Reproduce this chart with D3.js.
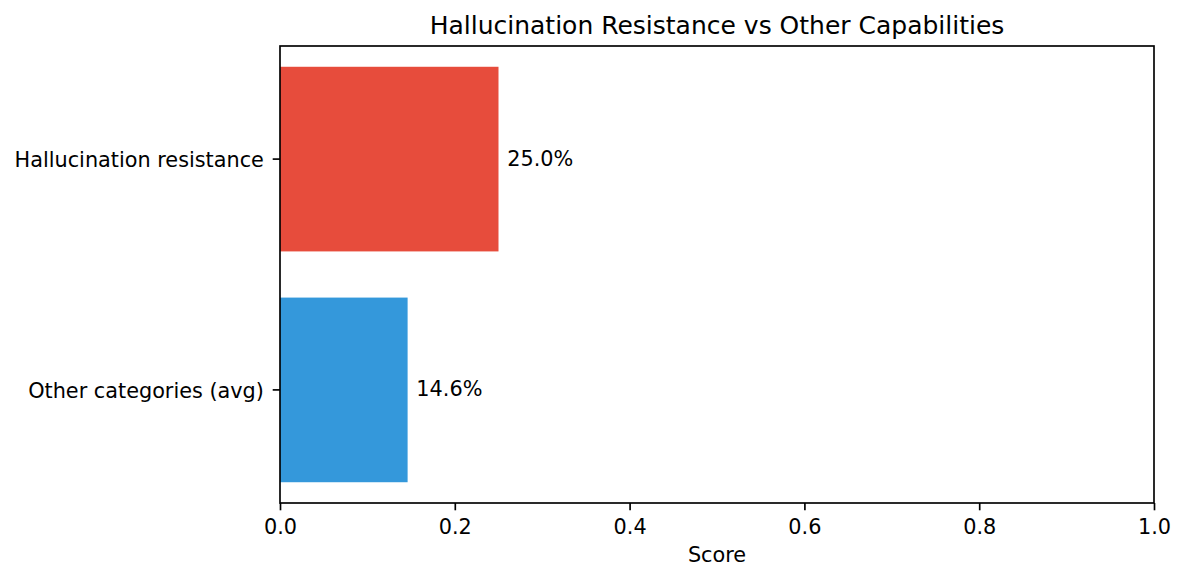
<!DOCTYPE html>
<html>
<head>
<meta charset="utf-8">
<script src="https://cdn.jsdelivr.net/npm/d3@7"></script>
<style>
  html, body { margin: 0; padding: 0; background: #fff; }
  svg { display: block; font-family: "DejaVu Sans", sans-serif; }
</style>
</head>
<body>
<script>
const categories = ["Hallucination resistance", "Other categories (avg)"];
const scores = [0.25, 0.146];
const barColors = ["#e74c3c", "#3498db"];
const xTicks = [0, 0.2, 0.4, 0.6, 0.8, 1.0];
const chartTitle = "Hallucination Resistance vs Other Capabilities";
const xLabel = "Score";

const W = 1185, H = 581;
const mLeft = 280, mRight = 1154, mTop = 46, mBottom = 503;
const tickLen = 7.3, tickPad = 7.3, lw = 1.67;

const svg = d3.select("body").append("svg").attr("width", W).attr("height", H);

const x = d3.scaleLinear().domain([0, 1]).range([mLeft, mRight]);
const y = d3.scaleBand().domain(categories).range([mTop, mBottom])
  .paddingInner(0.2).paddingOuter(0.09);

// bars
svg.selectAll("rect.bar").data(categories).enter().append("rect")
  .attr("class", "bar")
  .attr("x", x(0))
  .attr("y", d => y(d))
  .attr("width", (d, i) => x(scores[i]) - x(0))
  .attr("height", y.bandwidth())
  .attr("fill", (d, i) => barColors[i]);

// value labels
svg.selectAll("text.val").data(categories).enter().append("text")
  .attr("class", "val")
  .attr("x", (d, i) => x(scores[i] + 0.01))
  .attr("y", d => y(d) + y.bandwidth() / 2 + 6.5)
  .attr("font-size", 20.8)
  .attr("fill", "#000")
  .text((d, i) => (scores[i] * 100).toFixed(1) + "%");

// x axis
const xAxis = d3.axisBottom(x).tickValues(xTicks).tickFormat(d3.format(".1f"))
  .tickSize(tickLen).tickPadding(tickPad);
const gx = svg.append("g").attr("transform", `translate(0,${mBottom})`).call(xAxis);
gx.select(".domain").remove();
gx.selectAll(".tick line").attr("stroke", "#000").attr("stroke-width", lw);
gx.selectAll(".tick text").attr("font-size", 20.8).attr("fill", "#000")
  .attr("font-family", "DejaVu Sans").attr("dy", null).attr("y", 31);

// y axis
const yAxis = d3.axisLeft(y).tickSize(tickLen).tickPadding(tickPad + 1.5);
const gy = svg.append("g").attr("transform", `translate(${mLeft},0)`).call(yAxis);
gy.select(".domain").remove();
gy.selectAll(".tick line").attr("stroke", "#000").attr("stroke-width", lw);
gy.selectAll(".tick text").attr("font-size", 20.8).attr("fill", "#000")
  .attr("font-family", "DejaVu Sans").attr("dy", null).attr("y", 7.6);

// spines
svg.append("rect")
  .attr("x", mLeft).attr("y", mTop)
  .attr("width", mRight - mLeft).attr("height", mBottom - mTop)
  .attr("fill", "none").attr("stroke", "#000").attr("stroke-width", lw);

// title
svg.append("text")
  .attr("x", (mLeft + mRight) / 2).attr("y", 33.5)
  .attr("text-anchor", "middle").attr("font-size", 25).attr("fill", "#000")
  .text(chartTitle);

// x label
svg.append("text")
  .attr("x", (mLeft + mRight) / 2).attr("y", 562)
  .attr("text-anchor", "middle").attr("font-size", 20.8).attr("fill", "#000")
  .text(xLabel);
</script>
</body>
</html>
